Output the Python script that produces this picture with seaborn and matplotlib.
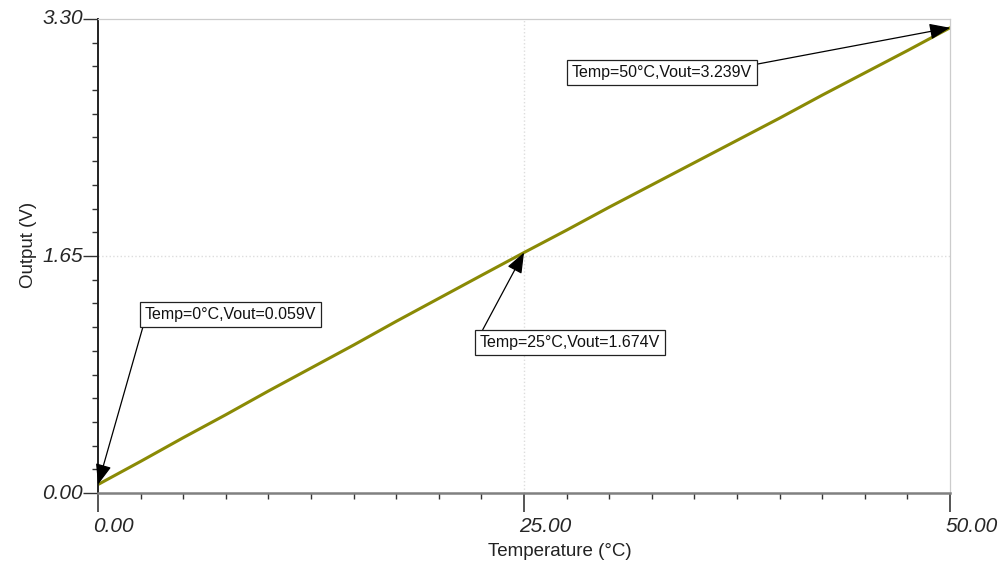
import numpy as np
import pandas as pd
import matplotlib
matplotlib.use('Agg')
import matplotlib.pyplot as plt
import matplotlib.transforms as mtransforms
from matplotlib.ticker import MultipleLocator, FixedLocator
import seaborn as sns

# =========================
# DATA
# =========================

temperature = [0, 2.5, 5, 7.5, 10, 12.5, 15, 17.5, 20, 22.5, 25,
               27.5, 30, 32.5, 35, 37.5, 40, 42.5, 45, 47.5, 50]
vout = [0.059, 0.220, 0.385, 0.545, 0.710, 0.870, 1.030, 1.195, 1.355, 1.515, 1.674,
        1.830, 1.990, 2.145, 2.300, 2.455, 2.610, 2.770, 2.925, 3.080, 3.239]

x_ticks = [0, 25, 50]
x_tick_labels = ['0.00', '25.00', '50.00']
y_ticks = [0, 1.65, 3.30]
y_tick_labels = ['0.00', '1.65', '3.30']

marked_temps = [0, 25, 50]
marked_vout = [0.059, 1.674, 3.239]
marked_labels = ['Temp=0°C,Vout=0.059V', 'Temp=25°C,Vout=1.674V', 'Temp=50°C,Vout=3.239V']

df = pd.DataFrame({'Temperature': temperature, 'Vout': vout})

# =========================
# STYLE
# =========================

sns.set_style('white')
plt.rcParams['font.family'] = ['Liberation Sans', 'DejaVu Sans']

LINE_COLOR = '#8a8a05'

fig = plt.figure(figsize=(9.99, 5.67), dpi=100)
ax = fig.add_axes([0.0981, 0.1305, 0.8529, 0.836])

sns.lineplot(data=df, x='Temperature', y='Vout', color=LINE_COLOR, linewidth=2.2, ax=ax)

ax.set_xlim(0, 50)
ax.set_ylim(0, 3.30)

# spines
ax.spines['top'].set_color('#cccccc')
ax.spines['right'].set_color('#cccccc')
ax.spines['top'].set_linewidth(0.9)
ax.spines['right'].set_linewidth(0.9)
ax.spines['bottom'].set_color('#808080')
ax.spines['bottom'].set_linewidth(1.8)
ax.spines['left'].set_color('#222222')
ax.spines['left'].set_linewidth(1.4)

# ticks
ax.xaxis.set_major_locator(FixedLocator(x_ticks))
ax.yaxis.set_major_locator(FixedLocator(y_ticks))
ax.xaxis.set_minor_locator(MultipleLocator(2.5))
ax.yaxis.set_minor_locator(MultipleLocator(0.165))
ax.set_xticklabels(x_tick_labels)
ax.set_yticklabels(y_tick_labels)

ax.tick_params(axis='x', which='major', direction='out', length=14, width=1.4,
               color='#555555', pad=3, labelsize=15, bottom=True)
ax.tick_params(axis='x', which='minor', direction='out', length=4, width=1.0,
               color='#333333', bottom=True)
ax.tick_params(axis='y', which='major', direction='out', length=11, width=1.0,
               color='#333333', pad=0, labelsize=15, left=True)
ax.tick_params(axis='y', which='minor', direction='out', length=4, width=1.0,
               color='#333333', left=True)

offset = mtransforms.ScaledTranslation(-0.05, 0, fig.dpi_scale_trans)
for lbl in ax.get_xticklabels():
    lbl.set_horizontalalignment('left')
    lbl.set_style('italic')
    lbl.set_transform(lbl.get_transform() + offset)
for lbl in ax.get_yticklabels():
    lbl.set_style('italic')
    lbl.set_verticalalignment('center')

# grid only at the middle major ticks
ax.grid(False)
ax.axvline(25, color='#dddddd', linestyle=':', linewidth=1.0, zorder=0)
ax.axhline(1.65, color='#dddddd', linestyle=':', linewidth=1.0, zorder=0)

# labels
ax.set_xlabel('Temperature (°C)', fontsize=13.5, color='#222222')
ax.set_ylabel('Output (V)', fontsize=13.5, color='#222222')
ax.xaxis.set_label_coords(0.542, -0.105)
ax.yaxis.set_label_coords(-0.072, 0.523)

# =========================
# ANNOTATIONS
# =========================

text_pos = [(0.155, 0.377), (0.554, 0.3175), (0.662, 0.887)]
rel_pos = [(0, 0), (0, 1), (1, 1)]

for t, v, label, pos, rp in zip(marked_temps, marked_vout, marked_labels, text_pos, rel_pos):
    ax.annotate(
        label,
        xy=(t, v),
        xytext=pos,
        textcoords='axes fraction',
        ha='center',
        va='center',
        fontsize=11.5,
        color='#111111',
        bbox=dict(boxstyle='square,pad=0.3', facecolor='white',
                  edgecolor='#222222', linewidth=0.9),
        arrowprops=dict(arrowstyle='-|>,head_length=0.9,head_width=0.35',
                        color='black', linewidth=0.9, shrinkA=0, shrinkB=0,
                        relpos=rp, mutation_scale=14),
        annotation_clip=False,
    )

plt.savefig('out.png', dpi=100)
plt.close()
